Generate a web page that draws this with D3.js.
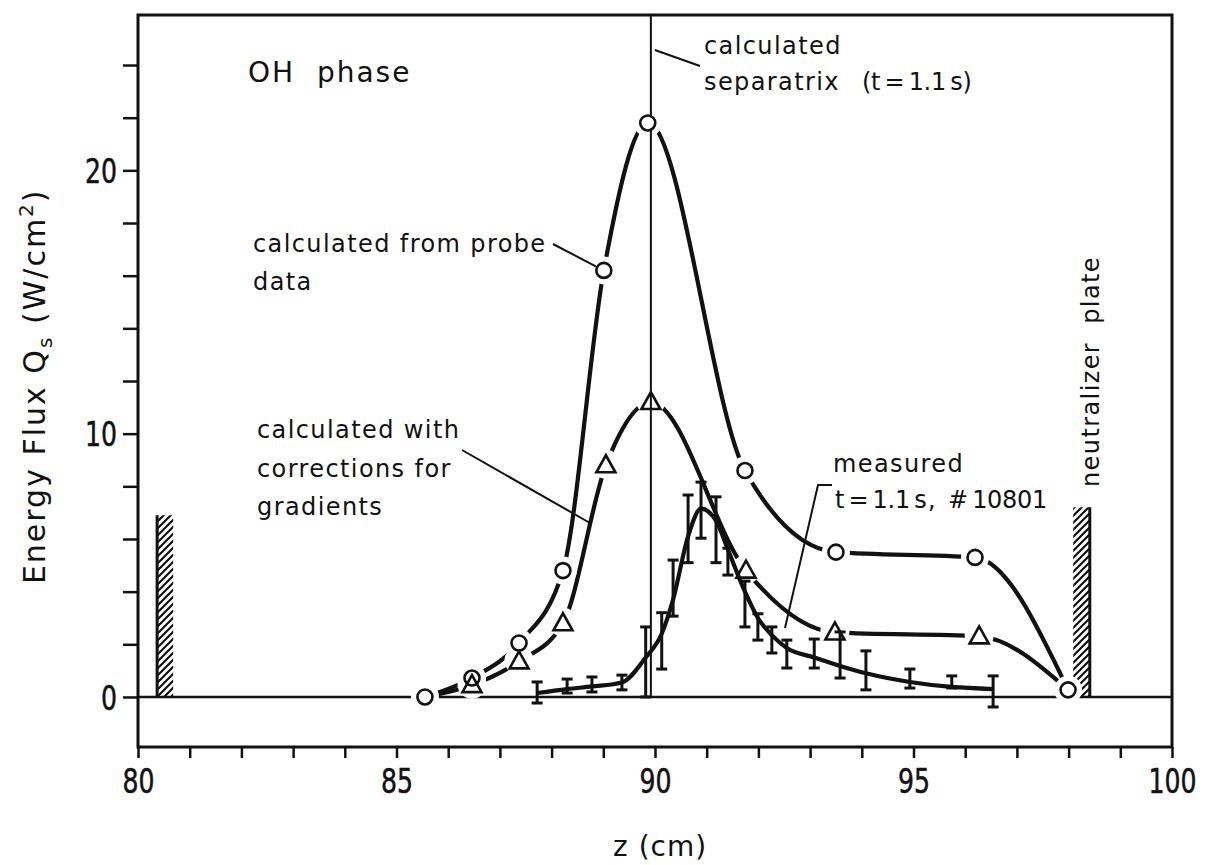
<!DOCTYPE html>
<html>
<head>
<meta charset="utf-8">
<script src="https://cdn.jsdelivr.net/npm/d3@7"></script>
<style>
  html, body { margin: 0; padding: 0; background: #fff; }
  svg { display: block; }
  text { font-family: "DejaVu Sans", "Liberation Sans", sans-serif; fill: #111; }
  .num { font-family: "DejaVu Sans Condensed", "DejaVu Sans", sans-serif; }
</style>
</head>
<body>
<svg id="chart" width="1218" height="865"></svg>
<script>
// ---------- data ----------
const xTickValues = [80, 81, 82, 83, 84, 85, 86, 87, 88, 89, 90, 91, 92, 93, 94, 95, 96, 97, 98, 99, 100];
const xTickLabels = [80, 85, 90, 95, 100];
const yTickValues = [0, 2, 4, 6, 8, 10, 12, 14, 16, 18, 20, 22, 24];
const yTickLabels = [0, 10, 20];

// calculated from probe data (circles)
const probeZ = [85.55, 86.46, 87.37, 88.22, 89.01, 89.86, 91.74, 93.50, 96.19, 97.99];
const probeQ = [0, 0.72, 2.05, 4.8, 16.2, 21.8, 8.6, 5.5, 5.3, 0.27];

// calculated with corrections for gradients (triangles); first/last points shared with circles
const gradZ = [85.55, 86.46, 87.37, 88.22, 89.05, 89.92, 91.76, 93.48, 96.27, 97.99];
const gradQ = [0, 0.45, 1.35, 2.8, 8.8, 11.2, 4.8, 2.45, 2.3, 0.27];

// measured t=1.1 s, #10801 (error bars and fitted curve)
const measZ  = [87.72, 88.30, 88.78, 89.36, 89.82, 90.13, 90.35, 90.64, 90.89, 91.18, 91.41, 91.74, 91.99, 92.26, 92.55, 93.08, 93.58, 94.08, 94.93, 95.74, 96.54];
const measLo = [-0.23, 0.15, 0.19, 0.27, 0.0, 1.06, 3.07, 5.1, 6.03, 5.1, 4.63, 2.66, 2.16, 1.67, 1.1, 1.1, 0.72, 0.27, 0.34, 0.34, -0.38];
const measHi = [0.57, 0.68, 0.76, 0.83, 2.66, 3.2, 5.2, 7.67, 8.16, 7.6, 5.65, 4.4, 3.16, 2.66, 2.16, 2.2, 2.47, 1.75, 1.06, 0.8, 0.8];
const measFit = [0.15, 0.3, 0.4, 0.55, 1.5, 2.4, 3.7, 6.1, 7.15, 6.7, 5.6, 4.0, 3.0, 2.35, 1.86, 1.5, 1.18, 0.9, 0.57, 0.38, 0.3];

const separatrixZ = 89.92;
// wall / neutralizer plate: [z solid edge, z hatch edge, height]
const leftPlate = [80.37, 80.68, 6.9];
const rightPlate = [98.41, 98.09, 7.2];

// ---------- scales ----------
const svg = d3.select("#chart");
const x = d3.scaleLinear().domain([80, 100]).range([138, 1172]);
const y = d3.scaleLinear().domain([-1.9, 25.9]).range([747, 15]);

const ink = "#111";

// ---------- hatch pattern ----------
const defs = svg.append("defs");
const pat = defs.append("pattern").attr("id", "hatch").attr("patternUnits", "userSpaceOnUse")
  .attr("width", 7).attr("height", 7);
pat.append("path").attr("d", "M-1,1 l2,-2 M0,7 l7,-7 M6,8 l2,-2")
  .attr("stroke", ink).attr("stroke-width", 2.2);

// ---------- frame ----------
svg.append("rect").attr("x", x(80)).attr("y", y(25.9))
  .attr("width", x(100) - x(80)).attr("height", y(-1.9) - y(25.9))
  .attr("fill", "none").attr("stroke", ink).attr("stroke-width", 3);

// zero line
svg.append("line").attr("x1", x(80)).attr("x2", x(100)).attr("y1", y(0)).attr("y2", y(0))
  .attr("stroke", ink).attr("stroke-width", 2.5);

// ---------- axes ----------
const xAxis = d3.axisBottom(x).tickValues(xTickValues).tickSize(11).tickSizeOuter(0)
  .tickFormat(d => xTickLabels.includes(d) ? d : "");
const gx = svg.append("g").attr("transform", `translate(0,${y(-1.9)})`).call(xAxis);
gx.select(".domain").remove();
gx.selectAll(".tick line").attr("stroke", ink).attr("stroke-width", 2.5);
gx.selectAll(".tick text").attr("class", "num").attr("font-size", 34).attr("y", 46).attr("dy", 0)
  .attr("fill", ink).attr("stroke", ink).attr("stroke-width", 0.5)
  .each(function(d) {
    if (xTickLabels.includes(d)) {
      d3.select(this).attr("textLength", String(d).length * 16).attr("lengthAdjust", "spacingAndGlyphs");
    }
  });

const yAxis = d3.axisLeft(y).tickValues(yTickValues).tickSize(15).tickSizeOuter(0)
  .tickFormat(d => yTickLabels.includes(d) ? d : "");
const gy = svg.append("g").attr("transform", `translate(${x(80)},0)`).call(yAxis);
gy.select(".domain").remove();
gy.selectAll(".tick line").attr("stroke", ink).attr("stroke-width", 2.5);
gy.selectAll(".tick text").attr("class", "num").attr("font-size", 34).attr("x", -21).attr("dy", "0.36em")
  .attr("fill", ink).attr("stroke", ink).attr("stroke-width", 0.5)
  .each(function(d) {
    if (yTickLabels.includes(d)) {
      d3.select(this).attr("textLength", String(d).length * 16).attr("lengthAdjust", "spacingAndGlyphs");
    }
  });

// axis titles
svg.append("text").attr("x", x(90.1)).attr("y", 856).attr("text-anchor", "middle")
  .attr("font-size", 28).attr("letter-spacing", 1).text("z (cm)");

const yt = svg.append("text").attr("transform", `translate(45,${y(11.8)}) rotate(-90)`)
  .attr("text-anchor", "middle").attr("font-size", 30).attr("letter-spacing", 2);
yt.append("tspan").text("Energy Flux Q");
yt.append("tspan").attr("font-size", 20).attr("dy", 7).text("s");
yt.append("tspan").attr("dy", -7).text("\u00a0(W/cm");
yt.append("tspan").attr("font-size", 20).attr("dy", -12).text("2");
yt.append("tspan").attr("dy", 12).text(")");

// ---------- plates ----------
function plate(p) {
  const x0 = Math.min(x(p[0]), x(p[1])), x1 = Math.max(x(p[0]), x(p[1]));
  svg.append("rect").attr("x", x0).attr("y", y(p[2])).attr("width", x1 - x0)
    .attr("height", y(0) - y(p[2])).attr("fill", "url(#hatch)");
  svg.append("line").attr("x1", x(p[0])).attr("x2", x(p[0])).attr("y1", y(p[2])).attr("y2", y(0))
    .attr("stroke", ink).attr("stroke-width", 3);
}
plate(leftPlate);
plate(rightPlate);

// ---------- curves ----------
const line = d3.line().x(d => x(d[0])).y(d => y(d[1])).curve(d3.curveMonotoneX);
const probePts = probeZ.map((z, i) => [z, probeQ[i]]);
const gradPts = gradZ.map((z, i) => [z, gradQ[i]]);
const fitPts = measZ.map((z, i) => [z, measFit[i]]);

svg.append("path").attr("d", line(probePts)).attr("fill", "none").attr("stroke", ink).attr("stroke-width", 4.2);
svg.append("path").attr("d", line(gradPts)).attr("fill", "none").attr("stroke", ink).attr("stroke-width", 4.2);

// white halos around markers (gaps in the curves)
const triPath = "M0,-10 L9.5,7 L-9.5,7 Z";
svg.append("g").selectAll("circle").data(probePts).join("circle")
  .attr("cx", d => x(d[0])).attr("cy", d => y(d[1])).attr("r", 14).attr("fill", "#fff");
svg.append("g").selectAll("circle").data(gradPts.slice(1, -1)).join("circle")
  .attr("cx", d => x(d[0])).attr("cy", d => y(d[1]) - 1).attr("r", 14.5).attr("fill", "#fff");

// separatrix
svg.append("line").attr("x1", x(separatrixZ)).attr("x2", x(separatrixZ))
  .attr("y1", y(25.9)).attr("y2", y(0)).attr("stroke", ink).attr("stroke-width", 2);

// measured curve and error bars
svg.append("path").attr("d", line(fitPts)).attr("fill", "none").attr("stroke", ink).attr("stroke-width", 4.2);
const eb = svg.append("g").attr("stroke", ink).attr("stroke-width", 3);
measZ.forEach((z, i) => {
  eb.append("line").attr("x1", x(z)).attr("x2", x(z)).attr("y1", y(measLo[i])).attr("y2", y(measHi[i]));
  eb.append("line").attr("x1", x(z) - 5.5).attr("x2", x(z) + 5.5).attr("y1", y(measLo[i])).attr("y2", y(measLo[i]));
  eb.append("line").attr("x1", x(z) - 5.5).attr("x2", x(z) + 5.5).attr("y1", y(measHi[i])).attr("y2", y(measHi[i]));
});

// markers
svg.append("g").selectAll("circle").data(probePts).join("circle")
  .attr("cx", d => x(d[0])).attr("cy", d => y(d[1])).attr("r", 7.5)
  .attr("fill", "#fff").attr("stroke", ink).attr("stroke-width", 2.6);
svg.append("g").selectAll("path").data(gradPts.slice(1, -1)).join("path")
  .attr("d", triPath).attr("transform", d => `translate(${x(d[0])},${y(d[1])})`)
  .attr("fill", "none").attr("stroke", ink).attr("stroke-width", 2.6).attr("stroke-linejoin", "miter");

// ---------- annotations ----------
function label(xp, yp, lines, size, ls, gap) {
  const t = svg.append("text").attr("x", xp).attr("y", yp).attr("font-size", size)
    .attr("letter-spacing", ls).style("white-space", "pre");
  lines.forEach((s, i) => t.append("tspan").attr("x", xp).attr("dy", i === 0 ? 0 : gap).text(s));
  return t;
}
label(248, 82, ["OH  phase"], 28, 2, 0);
label(253, 252, ["calculated from probe", "data"], 24, 1.4, 38);
label(257, 438, ["calculated with", "corrections for", "gradients"], 24, 1.4, 38.5);
label(704, 54, ["calculated", "separatrix"], 24, 1.4, 36);
label(833, 472, ["measured"], 24, 1.4, 0);

// compact parenthetical / shot labels
function compact(xp, yp, s) {
  return svg.append("text").attr("x", xp).attr("y", yp).attr("font-size", 24)
    .attr("letter-spacing", -0.3).style("word-spacing", "-3px").style("white-space", "pre").text(s);
}
compact(862, 90, "(t = 1.1 s)");
compact(835, 508, "t = 1.1 s");
compact(928, 508, ",");
compact(948, 508, "# 10801");

svg.append("text").attr("transform", `translate(1099,487) rotate(-90)`)
  .attr("font-size", 24).attr("letter-spacing", 1.4).style("white-space", "pre").text("neutralizer  plate");

// leader lines
const lead = svg.append("g").attr("stroke", ink).attr("stroke-width", 2).attr("fill", "none");
lead.append("path").attr("d", `M553,244 L${x(probeZ[4]) - 8},${y(probeQ[4]) - 4}`);
lead.append("path").attr("d", `M462,450 L590,523`);
lead.append("path").attr("d", `M${x(separatrixZ) + 4},50 L700,66`);
lead.append("path").attr("d", `M832,485 L818,485 L785,628`);
</script>
</body>
</html>
